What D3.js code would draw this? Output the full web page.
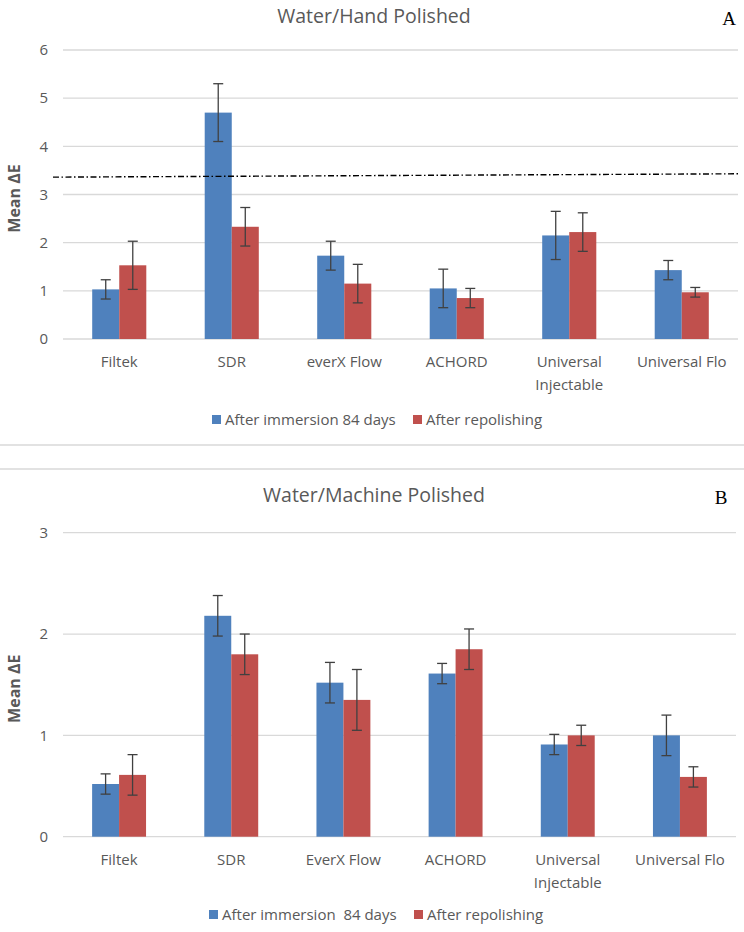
<!DOCTYPE html>
<html>
<head>
<meta charset="utf-8">
<script src="https://cdn.jsdelivr.net/npm/d3@7"></script>
<style>
  body { margin: 0; background: #fff; }
  text { font-family: "Open Sans", sans-serif; }
</style>
</head>
<body>
<div id="chart"></div>
<script>
// categories ("\n" marks where Excel wrapped the label)
const handCategories = ["Filtek", "SDR", "everX Flow", "ACHORD", "Universal\nInjectable", "Universal Flo"];
const machineCategories = ["Filtek", "SDR", "EverX Flow", "ACHORD", "Universal\nInjectable", "Universal Flo"];
const handSeriesNames = ["After immersion 84 days", "After repolishing"];
const machineSeriesNames = ["After immersion  84 days", "After repolishing"];

// panel A: water / hand polished
const handImmersion = [1.03, 4.70, 1.73, 1.05, 2.15, 1.43];
const handImmersionErr = [0.2, 0.6, 0.3, 0.4, 0.5, 0.2];
const handRepolish = [1.53, 2.33, 1.15, 0.85, 2.22, 0.97];
const handRepolishErr = [0.5, 0.4, 0.4, 0.2, 0.4, 0.1];
const handTicks = [0, 1, 2, 3, 4, 5, 6];
const handThreshold = [3.36, 3.43]; // dash-dot line, left end / right end

// panel B: water / machine polished
const machineImmersion = [0.52, 2.18, 1.52, 1.61, 0.91, 1.00];
const machineImmersionErr = [0.1, 0.2, 0.2, 0.1, 0.1, 0.2];
const machineRepolish = [0.61, 1.80, 1.35, 1.85, 1.00, 0.59];
const machineRepolishErr = [0.2, 0.2, 0.3, 0.2, 0.1, 0.1];
const machineTicks = [0, 1, 2, 3];

const colors = ["#4f81bd", "#c0504d"];
const textColor = "#595959";
const gridColor = "#d9d9d9";

const width = 744, height = 932;
const svg = d3.select("#chart").append("svg").attr("width", width).attr("height", height);

// separator lines between the two charts
svg.selectAll("line.sep")
    .data([445, 469])
    .join("line")
    .attr("class", "sep")
    .attr("x1", 0).attr("x2", width)
    .attr("y1", d => d).attr("y2", d => d)
    .attr("stroke", gridColor)
    .attr("stroke-width", 1.5);

function drawPanel(opt) {
    const g = svg.append("g");
    const x0 = d3.scaleBand().domain(opt.categories).range([opt.left, opt.right]);
    const x1 = d3.scaleBand().domain([0, 1]).range([0, x0.bandwidth()]).paddingOuter(1.08);
    const y = d3.scaleLinear().domain([0, d3.max(opt.ticks)]).range([opt.bottom, opt.top]);

    // title + panel letter
    g.append("text")
        .attr("x", 374).attr("y", opt.titleY)
        .attr("text-anchor", "middle")
        .attr("font-size", 19.5)
        .attr("fill", textColor)
        .text(opt.title);
    g.append("text")
        .attr("x", opt.letterX).attr("y", opt.titleY + 2)
        .attr("text-anchor", "middle")
        .style("font-family", "'Liberation Serif', serif")
        .attr("font-size", 19)
        .attr("fill", "#000")
        .text(opt.letter);

    // gridlines + tick labels
    g.selectAll("line.grid")
        .data(opt.ticks)
        .join("line")
        .attr("class", "grid")
        .attr("x1", opt.left).attr("x2", opt.right)
        .attr("y1", d => y(d)).attr("y2", d => y(d))
        .attr("stroke", gridColor)
        .attr("stroke-width", 1.3);
    g.selectAll("text.tick")
        .data(opt.ticks)
        .join("text")
        .attr("class", "tick")
        .attr("x", 48).attr("y", d => y(d))
        .attr("dy", "0.35em")
        .attr("text-anchor", "end")
        .attr("font-size", 15)
        .attr("fill", textColor)
        .text(d => d);

    // y axis title
    g.append("text")
        .attr("transform", `translate(20,${(opt.top + opt.bottom) / 2 + 4}) rotate(-90)`)
        .attr("text-anchor", "middle")
        .attr("font-size", 16)
        .attr("font-weight", 700)
        .attr("fill", textColor)
        .text("Mean ΔE");

    const rows = [];
    opt.categories.forEach((c, i) => {
        opt.series.forEach((s, j) => rows.push({ cat: c, s: j, v: s.values[i], e: s.err[i] }));
    });

    g.selectAll("rect.bar")
        .data(rows)
        .join("rect")
        .attr("class", "bar")
        .attr("x", d => x0(d.cat) + x1(d.s))
        .attr("y", d => y(d.v))
        .attr("width", x1.bandwidth())
        .attr("height", d => y(0) - y(d.v))
        .attr("fill", d => colors[d.s]);

    // error bars
    const eb = g.selectAll("g.err")
        .data(rows)
        .join("g")
        .attr("class", "err")
        .attr("stroke", "#404040")
        .attr("stroke-width", 1.3);
    const cx = d => x0(d.cat) + x1(d.s) + x1.bandwidth() / 2;
    eb.append("line")
        .attr("x1", cx).attr("x2", cx)
        .attr("y1", d => y(d.v + d.e)).attr("y2", d => y(d.v - d.e));
    eb.append("line")
        .attr("x1", d => cx(d) - 5).attr("x2", d => cx(d) + 5)
        .attr("y1", d => y(d.v + d.e)).attr("y2", d => y(d.v + d.e));
    eb.append("line")
        .attr("x1", d => cx(d) - 5).attr("x2", d => cx(d) + 5)
        .attr("y1", d => y(d.v - d.e)).attr("y2", d => y(d.v - d.e));

    // category labels
    g.selectAll("text.cat")
        .data(opt.categories)
        .join("text")
        .attr("class", "cat")
        .attr("x", d => x0(d) + x0.bandwidth() / 2)
        .attr("y", opt.bottom + 28)
        .attr("text-anchor", "middle")
        .attr("font-size", 15)
        .attr("fill", textColor)
        .each(function (d) {
            const t = d3.select(this);
            d.split("\n").forEach((line, k) => {
                t.append("tspan")
                    .attr("x", x0(d) + x0.bandwidth() / 2)
                    .attr("dy", k === 0 ? 0 : 23)
                    .text(line);
            });
        });

    // threshold line
    if (opt.threshold) {
        g.append("line")
            .attr("x1", 53).attr("x2", opt.right)
            .attr("y1", y(opt.threshold[0])).attr("y2", y(opt.threshold[1]))
            .attr("stroke", "#000")
            .attr("stroke-width", 1.4)
            .attr("stroke-dasharray", "6,2.5,1.5,2.5");
    }

    // legend
    const lg = g.selectAll("g.legend")
        .data(opt.series)
        .join("g")
        .attr("class", "legend")
        .attr("transform", (d, i) => `translate(${opt.legendX[i]},${opt.legendY})`);
    lg.append("rect")
        .attr("x", 0).attr("y", -5)
        .attr("width", 9).attr("height", 9)
        .attr("fill", (d, i) => colors[i]);
    lg.append("text")
        .attr("x", 13).attr("y", 0)
        .attr("dy", "0.35em")
        .attr("font-size", 15)
        .attr("fill", textColor)
        .style("white-space", "pre")
        .text(d => d.name);
}

drawPanel({
    title: "Water/Hand Polished", letter: "A", letterX: 729, titleY: 23,
    categories: handCategories,
    series: [
        { name: handSeriesNames[0], values: handImmersion, err: handImmersionErr },
        { name: handSeriesNames[1], values: handRepolish, err: handRepolishErr }
    ],
    ticks: handTicks, threshold: handThreshold,
    left: 63, right: 738, top: 50, bottom: 339,
    legendX: [212, 413], legendY: 420
});

drawPanel({
    title: "Water/Machine Polished", letter: "B", letterX: 721, titleY: 502,
    categories: machineCategories,
    series: [
        { name: machineSeriesNames[0], values: machineImmersion, err: machineImmersionErr },
        { name: machineSeriesNames[1], values: machineRepolish, err: machineRepolishErr }
    ],
    ticks: machineTicks,
    left: 63, right: 736, top: 532.7, bottom: 836.7,
    legendX: [209, 414], legendY: 915
});
</script>
</body>
</html>
